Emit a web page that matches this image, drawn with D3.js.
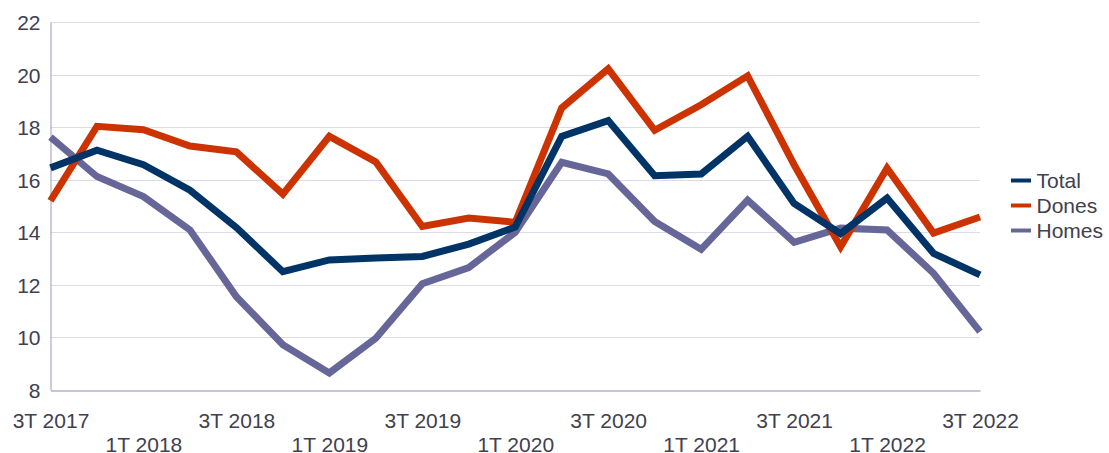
<!DOCTYPE html>
<html>
<head>
<meta charset="utf-8">
<script src="https://cdn.jsdelivr.net/npm/d3@7"></script>
<style>
  body { margin: 0; background: #fff; }
  svg { display: block; font-family: "Liberation Sans", Arial, sans-serif; }
  .tick text, .legend text { fill: #40404f; font-size: 21px; }
</style>
</head>
<body>
<div id="chart"></div>
<script>
const quarters = ['3T 2017', '4T 2017', '1T 2018', '2T 2018', '3T 2018', '4T 2018', '1T 2019',
                  '2T 2019', '3T 2019', '4T 2019', '1T 2020', '2T 2020', '3T 2020', '4T 2020',
                  '1T 2021', '2T 2021', '3T 2021', '4T 2021', '1T 2022', '2T 2022', '3T 2022'];

const total = [16.45, 17.12, 16.57, 15.6, 14.18, 12.5, 12.95, 13.02, 13.08, 13.55, 14.2,
               17.65, 18.25, 16.15, 16.22, 17.65, 15.1, 13.95, 15.3, 13.2, 12.38];
const dones = [15.2, 18.03, 17.9, 17.28, 17.06, 15.45, 17.65, 16.68, 14.22, 14.54, 14.38,
               18.73, 20.22, 17.88, 18.85, 19.95, 16.57, 13.45, 16.44, 13.97, 14.58];
const homes = [17.62, 16.12, 15.36, 14.09, 11.55, 9.72, 8.65, 9.97, 12.04, 12.66, 14.0,
               16.66, 16.22, 14.41, 13.35, 15.22, 13.62, 14.16, 14.09, 12.44, 10.22];

const seriesNames  = ['Total', 'Dones', 'Homes'];
const seriesColors = ['#003366', '#cc3300', '#666699'];
const yTicks = [8, 10, 12, 14, 16, 18, 20, 22];

const width  = 1109,
      height = 453,
      margin = {top: 22, right: 129, bottom: 63, left: 50.5};

const svg = d3.select('#chart').append('svg')
  .attr('width', width)
  .attr('height', height);

const x = d3.scalePoint()
  .domain(quarters)
  .range([margin.left, width - margin.right]);

const y = d3.scaleLinear()
  .domain([8, 22])
  .range([height - margin.bottom, margin.top]);

// gridlines
svg.append('g')
  .selectAll('line')
  .data(yTicks.slice(1))
  .join('line')
  .attr('x1', margin.left)
  .attr('x2', width - margin.right)
  .attr('y1', d => Math.round(y(d)) + 0.5)
  .attr('y2', d => Math.round(y(d)) + 0.5)
  .attr('stroke', '#dcdce8')
  .attr('stroke-width', 1);

// y axis
const yAxis = svg.append('g')
  .attr('transform', `translate(${margin.left},0)`)
  .call(d3.axisLeft(y).tickValues(yTicks).tickSize(0).tickPadding(10));
yAxis.select('.domain').attr('stroke', '#9a9abb');
yAxis.selectAll('.tick text').attr('dy', '0.36em');

// x axis, labels on two rows
const labelled = quarters.filter((q, i) => i % 2 === 0);
const xAxis = svg.append('g')
  .attr('transform', `translate(0,${Math.round(y(8)) + 0.5})`)
  .call(d3.axisBottom(x).tickValues(labelled).tickSize(0).tickPadding(0));
xAxis.select('.domain').attr('stroke', '#8c8cb0');
xAxis.selectAll('.tick text')
  .attr('dy', null)
  .attr('y', (d, i) => i % 2 === 0 ? 37.5 : 61);

// lines
const line = d3.line()
  .x((d, i) => x(quarters[i]))
  .y(d => y(d));

svg.append('g')
  .selectAll('path')
  .data([total, dones, homes].map((v, i) => ({name: seriesNames[i], values: v})).reverse())
  .join('path')
  .attr('fill', 'none')
  .attr('stroke', d => seriesColors[seriesNames.indexOf(d.name)])
  .attr('stroke-width', 7)
  .attr('stroke-linejoin', 'miter')
  .attr('d', d => line(d.values));

// legend
const legend = svg.append('g')
  .attr('class', 'legend')
  .attr('transform', 'translate(1011,180.5)');

const item = legend.selectAll('g')
  .data(seriesNames)
  .join('g')
  .attr('transform', (d, i) => `translate(0,${i * 25})`);

item.append('line')
  .attr('x1', 0)
  .attr('x2', 20)
  .attr('stroke', (d, i) => seriesColors[i])
  .attr('stroke-width', 4);

item.append('text')
  .attr('x', 25.5)
  .attr('dy', '0.36em')
  .text(d => d);
</script>
</body>
</html>
